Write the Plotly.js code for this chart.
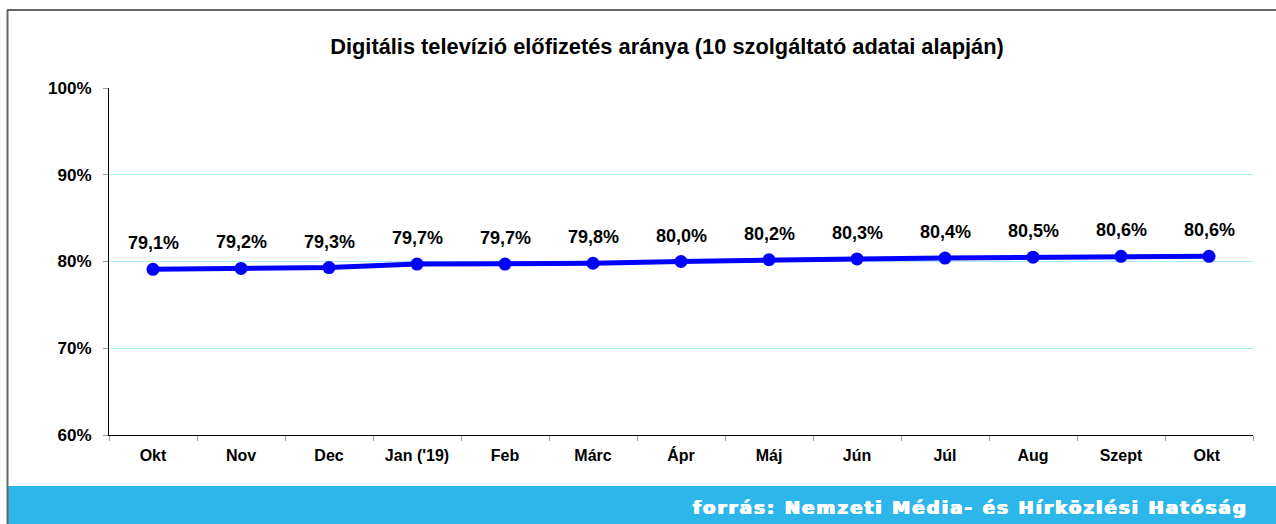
<!DOCTYPE html>
<html>
<head>
<meta charset="utf-8">
<script src="https://cdn.plot.ly/plotly-3.0.1.min.js"></script>
<style>
html,body{margin:0;padding:0;background:#fff;}
#chart{width:1276px;height:524px;}
</style>
</head>
<body>
<div id="chart"></div>
<script>
const categories = ["Okt", "Nov", "Dec", "Jan ('19)", "Feb", "Márc", "Ápr", "Máj", "Jún", "Júl", "Aug", "Szept", "Okt "];
const rates = [79.1, 79.2, 79.3, 79.7, 79.7, 79.8, 80.0, 80.2, 80.3, 80.4, 80.5, 80.6, 80.6];
const yTicks = [60, 70, 80, 90, 100];
const titleText = "Digitális televízió előfizetés aránya (10 szolgáltató adatai alapján)";
const sourceText = "forrás: Nemzeti Média- és Hírközlési Hatóság";

const W = 1276, H = 524;
const L = 109, R = 23, T = 88, B = 89;
const pw = W - L - R, ph = H - T - B;
const px = x => (x - L) / pw;
const py = y => (H - B - y) / ph;

const trace = {
  x: categories,
  y: rates,
  type: 'scatter',
  mode: 'lines+markers',
  line: {color: '#0000ff', width: 5},
  marker: {color: '#0000ff', size: 13},
  hoverinfo: 'none',
  cliponaxis: false
};

const labelAnns = categories.map((c, i) => ({
  x: c, y: rates[i], xref: 'x', yref: 'y',
  text: rates[i].toFixed(1).replace('.', ',') + '%',
  showarrow: false, yshift: 26,
  font: {family: 'Liberation Sans, Arial, sans-serif', size: 18, color: '#000', weight: 'bold'}
}));

const layout = {
  width: W, height: H,
  margin: {l: L, r: R, t: T, b: B},
  paper_bgcolor: '#fff', plot_bgcolor: '#fff',
  showlegend: false,
  font: {family: 'Liberation Sans, Arial, sans-serif', color: '#000'},
  title: {
    text: '<b>' + titleText + '</b>',
    xref: 'container', yref: 'container',
    x: 667 / W, xanchor: 'center', y: 1 - 46 / H, yanchor: 'middle',
    font: {family: 'Liberation Sans, Arial, sans-serif', size: 21.8, color: '#000'}
  },
  xaxis: {
    type: 'category',
    tickson: 'boundaries',
    ticks: 'outside', ticklen: 5, tickcolor: '#999', tickwidth: 1,
    showline: true, linecolor: '#000', linewidth: 1,
    showgrid: false, zeroline: false,
    tickfont: {size: 16, weight: 'bold', color: '#000'},
    ticklabelstandoff: 6,
    range: [-0.5, categories.length - 0.5],
    fixedrange: true
  },
  yaxis: {
    range: [60, 100],
    tickvals: yTicks,
    ticktext: yTicks.map(v => v + '%'),
    ticks: 'outside', ticklen: 5, tickcolor: '#999', tickwidth: 1,
    showline: true, linecolor: '#000', linewidth: 1,
    showgrid: true, gridcolor: '#a8ecf6', gridwidth: 1,
    zeroline: false,
    tickfont: {size: 17, weight: 'bold', color: '#000'},
    ticklabelstandoff: 8,
    fixedrange: true
  },
  shapes: [
    {type: 'rect', xref: 'paper', yref: 'paper', x0: px(8), x1: px(W + 5), y0: py(486), y1: py(H + 5),
     fillcolor: '#2cb6ea', line: {width: 0}, layer: 'above'},
    {type: 'line', xref: 'paper', yref: 'paper', x0: px(7), x1: px(W + 5), y0: py(10), y1: py(10),
     line: {color: '#666', width: 2}},
    {type: 'line', xref: 'paper', yref: 'paper', x0: px(7.5), x1: px(7.5), y0: py(10), y1: py(H + 5),
     line: {color: '#666', width: 2}}
  ],
  annotations: labelAnns.concat([{
    xref: 'paper', yref: 'paper', x: px(1250), y: py(508), xanchor: 'right', yanchor: 'middle',
    text: '<span style="letter-spacing:2.2px"><b>' + sourceText + '</b></span>', showarrow: false,
    font: {family: 'DejaVu Sans, Verdana, sans-serif', size: 18, color: '#fff',
           shadow: '0.8px 0 0 #fff, -0.8px 0 0 #fff, 0 0.4px 0 #fff'}
  }])
};

Plotly.newPlot('chart', [trace], layout, {displayModeBar: false, staticPlot: true});
</script>
</body>
</html>
